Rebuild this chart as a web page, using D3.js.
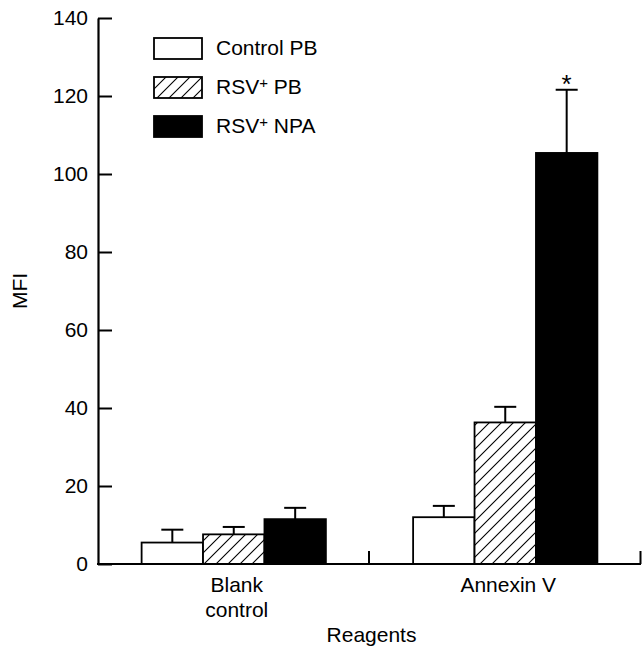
<!DOCTYPE html>
<html>
<head>
<meta charset="utf-8">
<script src="https://cdn.jsdelivr.net/npm/d3@7"></script>
<style>
  html, body { margin: 0; padding: 0; background: #fff; }
  svg text { font-family: "Liberation Sans", Arial, Helvetica, sans-serif; fill: #000; }
</style>
</head>
<body>
<svg id="chart" width="642" height="649"></svg>
<script>
// MARK: Data.

const categories  = ['Blank control', 'Annexin V']
const seriesNames = ['Control PB', 'RSV+ PB', 'RSV+ NPA']
const controlPB   = [5.5, 12.0]
const rsvPB       = [7.6, 36.3]
const rsvNPA      = [11.5, 105.4]
const controlErr  = [3.3, 2.9]
const rsvPBErr    = [1.9, 4.0]
const rsvNPAErr   = [2.9, 16.2]
const yTicks      = [0, 20, 40, 60, 80, 100, 120, 140]
const starred     = [{ category: 'Annexin V', series: 'RSV+ NPA' }]

const seriesValues = [controlPB, rsvPB, rsvNPA]
const seriesErrors = [controlErr, rsvPBErr, rsvNPAErr]
const seriesFill   = ['#fff', 'url(#hatch)', '#000']

// MARK: Layout.

const svg = d3.select('#chart')
const FONT = 21
const PLOT = { left: 98, right: 641, top: 18, bottom: 564 }

const y = d3.scaleLinear().domain([0, 140]).range([PLOT.bottom, PLOT.top])
const x0 = d3.scaleBand().domain(categories).range([PLOT.left, PLOT.right]).padding(0)
const x1 = d3.scaleBand().domain(seriesNames).range([0, x0.bandwidth()])
  .paddingInner(0).paddingOuter(0.71)

// Hatch pattern: "///" lines.
const defs = svg.append('defs')
const pat = defs.append('pattern')
  .attr('id', 'hatch')
  .attr('patternUnits', 'userSpaceOnUse')
  .attr('width', 12)
  .attr('height', 12)
pat.append('rect').attr('width', 12).attr('height', 12).attr('fill', '#fff')
pat.append('path')
  .attr('d', 'M-3,3 L3,-3 M0,12 L12,0 M9,15 L15,9')
  .attr('stroke', '#000')
  .attr('stroke-width', 1.1)

// Flatten bars.
const bars = []
categories.forEach((cat, ci) => {
  seriesNames.forEach((s, si) => {
    bars.push({
      category: cat, series: s, si,
      value: seriesValues[si][ci],
      err:   seriesErrors[si][ci],
    })
  })
})

// MARK: Bars.

const barG = svg.append('g')
barG.selectAll('rect')
  .data(bars).enter()
  .append('rect')
  .attr('x'           , (d) => x0(d.category) + x1(d.series))
  .attr('y'           , (d) => y(d.value))
  .attr('width'       , x1.bandwidth())
  .attr('height'      , (d) => y(0) - y(d.value))
  .attr('fill'        , (d) => seriesFill[d.si])
  .attr('stroke'      , '#000')
  .attr('stroke-width', 1.8)

// Error bars (upper only).
const CAP = 11
const errG = svg.append('g').attr('stroke', '#000').attr('stroke-width', 2)
const cx = (d) => x0(d.category) + x1(d.series) + x1.bandwidth() / 2
errG.selectAll('line.v')
  .data(bars).enter()
  .append('line')
  .attr('class', 'v')
  .attr('x1', cx).attr('x2', cx)
  .attr('y1', (d) => y(d.value))
  .attr('y2', (d) => y(d.value + d.err))
errG.selectAll('line.cap')
  .data(bars).enter()
  .append('line')
  .attr('class', 'cap')
  .attr('x1', (d) => cx(d) - CAP).attr('x2', (d) => cx(d) + CAP)
  .attr('y1', (d) => y(d.value + d.err))
  .attr('y2', (d) => y(d.value + d.err))

// Significance marker.
svg.append('g').selectAll('text')
  .data(bars.filter((b) => starred.some((s) => s.category === b.category && s.series === b.series)))
  .enter().append('text')
  .attr('x', cx)
  .attr('y', (d) => y(d.value + d.err) + 3)
  .attr('text-anchor', 'middle')
  .attr('font-size', 26)
  .text('*')

// MARK: Axes.

const yAxis = d3.axisLeft(y)
  .tickValues(yTicks)
  .tickSizeInner(-14)
  .tickSizeOuter(0)
  .tickPadding(10)
const yG = svg.append('g')
  .attr('transform', `translate(${PLOT.left},0)`)
  .call(yAxis)
yG.select('.domain').attr('stroke-width', 2.2)
yG.selectAll('.tick line').attr('stroke-width', 2)
yG.selectAll('.tick text')
  .attr('font-size', FONT)
  .attr('font-family', '"Liberation Sans", Arial, sans-serif')

// X axis line with upward ticks at group boundaries.
const xG = svg.append('g').attr('stroke', '#000').attr('stroke-width', 2.2)
xG.append('line')
  .attr('x1', PLOT.left - 1).attr('x2', PLOT.right)
  .attr('y1', y(0)).attr('y2', y(0))
xG.selectAll('line.tick')
  .data(categories).enter()
  .append('line')
  .attr('class', 'tick')
  .attr('x1', (c) => x0(c) + x0.bandwidth() - 0.5)
  .attr('x2', (c) => x0(c) + x0.bandwidth() - 0.5)
  .attr('y1', y(0))
  .attr('y2', y(0) - 13)
  .attr('stroke-width', 2)

// Category labels (wrap "Blank control" onto two lines).
const catLabels = svg.append('g')
catLabels.selectAll('text')
  .data(categories).enter()
  .append('text')
  .attr('text-anchor', 'middle')
  .attr('font-size', FONT)
  .each(function (c) {
    const lines = c === 'Blank control' ? ['Blank', 'control'] : [c]
    const t = d3.select(this)
    lines.forEach((ln, i) => {
      t.append('tspan')
        .attr('x', x0(c) + x0.bandwidth() / 2 + 3)
        .attr('y', 592 + i * 25)
        .text(ln)
    })
  })

// Axis titles.
svg.append('text')
  .attr('x', (PLOT.left + PLOT.right) / 2 + 2)
  .attr('y', 642)
  .attr('text-anchor', 'middle')
  .attr('font-size', FONT)
  .text('Reagents')

svg.append('text')
  .attr('transform', `translate(27,${(PLOT.top + PLOT.bottom) / 2}) rotate(-90)`)
  .attr('text-anchor', 'middle')
  .attr('font-size', FONT)
  .text('MFI')

// MARK: Legend.

const legend = svg.append('g').attr('transform', 'translate(154,38)')
const item = legend.selectAll('g')
  .data(seriesNames).enter()
  .append('g')
  .attr('transform', (d, i) => `translate(0,${i * 39})`)
item.append('rect')
  .attr('width', 48)
  .attr('height', 21)
  .attr('fill', (d, i) => seriesFill[i])
  .attr('stroke', '#000')
  .attr('stroke-width', 1.8)
item.append('text')
  .attr('x', 62)
  .attr('y', 17)
  .attr('font-size', FONT)
  .each(function (d) {
    const t = d3.select(this)
    const m = d.match(/^(RSV)\+ (.*)$/)
    if (m) {
      t.append('tspan').text(m[1])
      t.append('tspan').attr('font-size', 15).attr('dy', -6).text('+')
      t.append('tspan').attr('dy', 6).text(' ' + m[2])
    } else {
      t.text(d)
    }
  })
</script>
</body>
</html>
